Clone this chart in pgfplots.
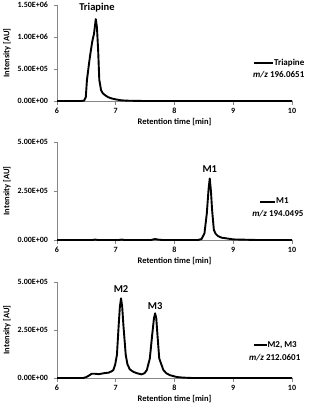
\documentclass[border=0pt]{standalone}
\usepackage{fontspec}
\setmainfont{Carlito}
\usepackage{pgfplots}
\pgfplotsset{compat=1.18}
\definecolor{axgray}{RGB}{134,134,134}
\tikzset{
  peak/.style={font=\bfseries\fontsize{10.5}{12}\selectfont, anchor=center, inner sep=0pt},
  mz/.style={font=\bfseries\fontsize{9}{10}\selectfont, anchor=west, inner sep=0pt},
}
\pgfplotsset{
  chrom/.style={
    scale only axis, width=235pt,
    xmin=6, xmax=10, ymin=0,
    scaled y ticks=false,
    axis x line=bottom, axis y line=left,
    x axis line style={-, axgray, line width=0.6pt},
    y axis line style={-, axgray, line width=0.6pt},
    tick align=outside, major tick length=3.5pt,
    tick style={axgray, line width=0.6pt},
    xtick={6,7,8,9,10}, xticklabels={6,7,8,9,10},
    ticklabel style={font=\bfseries\fontsize{8}{9}\selectfont, text=black},
    yticklabel style={xshift=-2pt},
    every axis x label/.style={at={(axis description cs:0.5,0)}, anchor=center, yshift=-21.5pt, font=\bfseries\fontsize{8.5}{10}\selectfont},
    every axis y label/.style={at={(axis description cs:0,0.5)}, anchor=center, rotate=90, yshift=50pt, font=\bfseries\fontsize{8.5}{10}\selectfont},
    xlabel={Retention time [min]}, ylabel={Intensity [AU]},
    clip=false,
    legend style={draw=none, fill=none, inner sep=0pt, anchor=west,
      font=\bfseries\fontsize{9}{10}\selectfont,
      nodes={inner sep=0pt}, /tikz/every even column/.style={column sep=0pt}},
  },
}
\begin{document}
\begin{tikzpicture}
\useasboundingbox (0,0) rectangle (309pt,-406pt);
% ---------------- Panel 1 ----------------
\begin{axis}[chrom, at={(57pt,-101pt)}, anchor=south west, height=96pt,
  ymax=1500000, ytick={0,500000,1000000,1500000},
  yticklabels={0.00E+00,5.00E+05,1.00E+06,1.50E+06},
  legend style={at={(rel axis cs:0.834,0.40)}},
  legend image code/.code={\draw[#1, line width=1.9pt] (0pt,0pt) -- (19pt,0pt);}]
\addplot[black, line width=1.9pt, line join=round] coordinates {
(6.00,0) (6.40,0) (6.46,5000) (6.49,60000) (6.51,330000) (6.55,620000) (6.57,750000)
(6.60,930000) (6.63,1050000) (6.66,1280000) (6.68,1150000) (6.70,800000) (6.72,330000)
(6.75,170000) (6.78,120000) (6.82,90000) (6.87,60000) (6.93,40000) (7.00,25000)
(7.10,10000) (7.20,5000) (7.35,2000) (7.50,0) (10.00,0)};
\addlegendentry{Triapine}
\node[peak] at (axis cs:6.68,1460000) {Triapine};
\node[mz] at (rel axis cs:0.834,0.27) {\textit{m/z} 196.0651};
\end{axis}
% ---------------- Panel 2 ----------------
\begin{axis}[chrom, at={(57pt,-240pt)}, anchor=south west, height=98pt,
  ymax=500000, ytick={0,250000,500000},
  yticklabels={0.00E+00,2.50E+05,5.00E+05},
  legend style={at={(rel axis cs:0.86,0.39)}},
  legend image code/.code={\draw[#1, line width=1.9pt] (0pt,0pt) -- (15pt,0pt);}]
\addplot[black, line width=1.9pt, line join=round] coordinates {
(6.00,0) (6.60,0) (6.65,2000) (6.70,0) (7.05,0) (7.10,2000) (7.15,0) (7.60,0)
(7.67,5000) (7.72,2000) (7.80,0) (8.40,0) (8.46,5000) (8.51,34000) (8.55,136000)
(8.58,260000) (8.60,314000) (8.62,250000) (8.64,153000) (8.67,51000) (8.70,32000)
(8.74,20000) (8.80,12000) (8.89,8000) (9.00,3000) (9.20,1500) (9.40,0) (10.00,0)};
\addlegendentry{M1}
\node[peak] at (axis cs:8.60,361000) {M1};
\node[mz] at (rel axis cs:0.83,0.265) {\textit{m/z} 194.0495};
\end{axis}
% ---------------- Panel 3 ----------------
\begin{axis}[chrom, at={(57pt,-378pt)}, anchor=south west, height=96pt,
  ymax=500000, ytick={0,250000,500000},
  yticklabels={0.00E+00,2.50E+05,5.00E+05},
  legend style={at={(rel axis cs:0.834,0.344)}},
  legend image code/.code={\draw[#1, line width=1.9pt] (0pt,0pt) -- (12.5pt,0pt);}]
\addplot[black, line width=1.9pt, line join=round] coordinates {
(6.00,0) (6.45,0) (6.50,5000) (6.54,12000) (6.59,22000) (6.65,22000) (6.71,20000)
(6.80,25000) (6.88,28000) (6.93,35000) (6.96,42000) (6.99,70000) (7.02,120000)
(7.05,276000) (7.07,370000) (7.09,415000) (7.11,370000) (7.13,276000) (7.17,120000)
(7.20,70000) (7.24,45000) (7.30,32000) (7.36,25000) (7.44,19000) (7.49,25000)
(7.53,42000) (7.58,102000) (7.62,224000) (7.65,310000) (7.67,337000) (7.69,310000)
(7.71,224000) (7.74,102000) (7.81,42000) (7.86,25000) (7.92,15000) (8.04,5000)
(8.15,2000) (8.30,0) (10.00,0)};
\addlegendentry{M2, M3}
\node[peak] at (axis cs:7.09,462000) {M2};
\node[peak] at (axis cs:7.67,375000) {M3};
\node[mz] at (rel axis cs:0.817,0.21) {\textit{m/z} 212.0601};
\end{axis}
\end{tikzpicture}
\end{document}
